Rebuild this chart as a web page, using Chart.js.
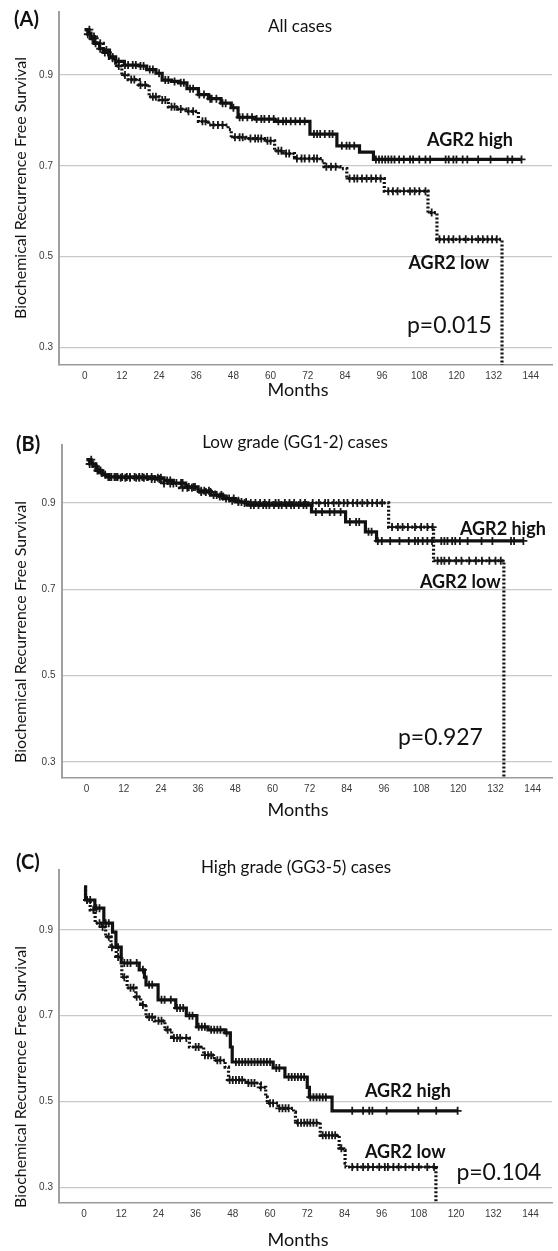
<!DOCTYPE html>
<html>
<head>
<meta charset="utf-8">
<script src="https://cdn.jsdelivr.net/npm/chart.js@4.4.1/dist/chart.umd.min.js"></script>
<style>
  body { margin: 0; background: #fff; width: 558px; height: 1251px; overflow: hidden; position: relative; }
  .panel { position: absolute; left: 0; width: 558px; }
</style>
</head>
<body>
<div class="panel" style="top:0"><canvas id="chartA" width="558" height="400"></canvas></div>
<div class="panel" style="top:400px"><canvas id="chartB" width="558" height="425"></canvas></div>
<div class="panel" style="top:825px"><canvas id="chartC" width="558" height="426"></canvas></div>
<script>
// Shared axis ticks
const monthTicks = [0, 12, 24, 36, 48, 60, 72, 84, 96, 108, 120, 132, 144];
const survTicks = [0.3, 0.5, 0.7, 0.9];

// (A) All cases - step curves (event times / survival after the step) and censor times
const aHighT = [0, 1, 2, 3, 4.8, 6, 8, 10, 12.8, 17.6, 20, 23, 25, 28, 30.3, 33, 36.7, 40, 44, 47.3, 49.5, 55, 61.3, 72.7, 81.4, 88.7, 93.2, 141];
const aHighS = [1.0, 0.99, 0.98, 0.97, 0.958, 0.95, 0.94, 0.93, 0.922, 0.92, 0.912, 0.904, 0.889, 0.886, 0.883, 0.87, 0.857, 0.848, 0.838, 0.828, 0.807, 0.803, 0.798, 0.77, 0.744, 0.73, 0.714, 0.714];
const aHighC = [1, 2.5, 3.5, 5, 6.5, 7.5, 9, 11, 13, 14, 15.5, 16.5, 18, 19, 21, 22, 24, 26, 27, 29, 31, 32, 34, 35, 37, 38.5, 40.5, 41, 42.5, 44.5, 45.5, 48, 50, 51, 52.5, 54, 55.5, 57, 58, 59.5, 61, 62.5, 64, 65, 66.5, 68, 69.5, 71, 74, 75, 76, 77.5, 79, 80, 83, 84.5, 85.5, 87, 94, 95, 96, 97, 98, 99, 100, 101.5, 103, 105, 106, 108, 110, 111.5, 116.5, 117.5, 119, 120, 122, 123.5, 127, 131, 136.5, 138, 141];
const aLowT = [0, 2, 4, 6, 8, 10, 12, 14, 17.6, 20.8, 24, 27, 30, 32.6, 36.7, 40, 46.3, 47.3, 52, 58, 61.3, 64, 67.7, 76, 77.3, 82.4, 84.6, 96.7, 110.8, 113.7, 134.7];
const aLowS = [1.0, 0.985, 0.97, 0.955, 0.937, 0.92, 0.90, 0.89, 0.878, 0.852, 0.845, 0.83, 0.825, 0.82, 0.798, 0.79, 0.78, 0.763, 0.76, 0.755, 0.733, 0.727, 0.716, 0.711, 0.698, 0.694, 0.672, 0.644, 0.597, 0.538, 0.0];
const aLowC = [1.5, 3, 5, 7, 9, 11, 13, 15, 16, 18, 19.5, 22, 23, 25, 26, 28, 29, 31, 33.5, 35, 38, 39, 41.5, 43, 44.5, 48.5, 50, 51, 53.5, 55, 56, 57, 59, 60, 62.5, 63.5, 65, 66, 68.5, 70, 71, 72.5, 74, 75, 78, 79.5, 81, 85.5, 87, 88, 89.5, 91, 92.5, 94, 95.5, 98, 99.5, 101, 103, 105, 106.5, 108, 110, 112, 114.5, 116, 117.5, 119, 121, 123, 125, 127, 128.5, 130, 131.5, 133];

// (B) Low grade (GG1-2) cases
const bHighT = [0, 1, 3, 5, 7, 22, 25, 28, 32, 36, 40, 44, 48, 52, 72.6, 83.6, 90, 93.6, 141];
const bHighS = [1.0, 0.99, 0.975, 0.965, 0.96, 0.958, 0.952, 0.946, 0.937, 0.928, 0.918, 0.91, 0.902, 0.895, 0.879, 0.856, 0.833, 0.812, 0.812];
const bHighC = [1, 2, 3.5, 4.5, 6, 7.5, 9, 10, 11.5, 13, 14, 15.5, 17, 18, 19.5, 21, 23, 24, 26, 27, 29, 30.5, 31, 33, 34.5, 35, 37, 38, 39.5, 41, 42, 43.5, 45, 46, 47.5, 49, 50, 51.5, 53, 54, 55.5, 57, 58, 59, 60.5, 62, 63, 64.5, 66, 67, 68.5, 70, 71, 74, 76, 78.5, 80, 82, 85, 87, 88, 91, 92, 94, 95.3, 98, 101, 104, 106, 107, 108.5, 110, 111.5, 114.5, 115.5, 116.5, 118, 119, 120.5, 123, 127.5, 131, 137, 138, 141];
const bLowT = [0, 2, 4, 6, 10, 20, 24, 30, 36, 42, 46, 50, 97.5, 112, 134.7];
const bLowS = [1.0, 0.985, 0.97, 0.96, 0.958, 0.955, 0.945, 0.935, 0.925, 0.915, 0.905, 0.90, 0.844, 0.766, 0.0];
const bLowC = [1.5, 3, 5, 7, 8, 9.5, 11, 12.5, 14, 16, 17, 18.5, 21, 22, 23.5, 25, 27, 28, 31, 32.5, 34, 37, 38.5, 40, 43, 44, 47, 49, 51, 53, 54.5, 56, 57.5, 59, 61, 62, 64, 65.5, 67, 69, 70.5, 73, 75, 77, 78, 79.8, 81.4, 83, 84.2, 86, 87.4, 89, 90.6, 92.2, 93.8, 95.4, 98.6, 100.5, 102, 103.7, 106, 108, 110, 111.7, 113.3, 114.5, 115.5, 117, 119.3, 121, 123.5, 125.7, 127.6, 130, 132, 133.7];

// (C) High grade (GG3-5) cases
const cHighT = [0, 0.5, 3.5, 6.4, 9.2, 10.3, 12, 17.8, 19.5, 20, 23.9, 29.6, 33, 36.4, 40, 45.5, 47.2, 47.8, 61, 64.8, 72, 72.7, 80, 120.5];
const cHighS = [1.0, 0.97, 0.951, 0.916, 0.895, 0.86, 0.823, 0.807, 0.79, 0.772, 0.737, 0.718, 0.70, 0.674, 0.667, 0.66, 0.627, 0.592, 0.578, 0.557, 0.533, 0.51, 0.478, 0.478];
const cHighC = [1, 2, 4, 5, 7, 8, 11, 13, 14, 15, 17, 19, 21, 22, 25, 26, 28, 30, 31, 32, 34, 35, 37, 38, 39, 41, 42, 43, 44, 46, 49, 50, 51, 52, 53, 54, 55, 56, 57, 58, 59, 60, 62, 63, 66, 67, 68, 69, 70, 71, 73, 74, 75, 76, 77, 78, 86.5, 90, 92, 93, 97.6, 107.8, 113.6, 120.5];
const cLowT = [0, 0.5, 2, 3.6, 5.9, 7, 8.7, 10.4, 12.2, 13.9, 16.7, 18.3, 20, 22.7, 26.1, 28.3, 34, 38.6, 42, 45.5, 46.6, 52.4, 56.9, 58.6, 59.1, 62.6, 67.6, 68.2, 76.2, 82.3, 83.5, 84.2, 84.5, 113.5];
const cLowS = [1.0, 0.97, 0.947, 0.916, 0.907, 0.884, 0.86, 0.837, 0.79, 0.765, 0.744, 0.725, 0.697, 0.688, 0.667, 0.648, 0.627, 0.608, 0.596, 0.58, 0.55, 0.543, 0.533, 0.51, 0.496, 0.484, 0.475, 0.45, 0.421, 0.391, 0.386, 0.356, 0.347, 0.0];
const cLowC = [1, 3, 5, 6, 8, 9, 11, 13, 15, 16, 17, 19, 21, 22, 24, 25, 27, 29, 30, 31, 33, 36, 37, 39, 40, 41, 43, 44, 47, 48, 49, 50, 51, 53, 54, 55, 57, 60, 61, 63, 64, 65, 66, 69, 70, 71, 72, 73, 74, 75, 77, 78, 79, 80, 81, 83, 86.5, 88.2, 90, 91.6, 93.2, 95.2, 97, 98, 99.8, 101.5, 103.7, 106, 108, 110.7, 112.9];

const FONT = 'Lato, "Open Sans", sans-serif';

function stepPoints(T, S) {
    return T.map((t, i) => ({ x: t, y: S[i] }));
}

function survAt(T, S, t) {
    let s = S[0];
    for (let i = 0; i < T.length; i++) {
        if (T[i] <= t) s = S[i];
    }
    return s;
}

function censorPoints(T, S, C) {
    return C.map(t => ({ x: t, y: survAt(T, S, t) }));
}

// draws panel letter, titles, axis titles and curve labels
const textPlugin = {
    id: 'panelText',
    afterDraw(chart) {
        const p = chart.options.plugins.panelText;
        const ctx = chart.ctx;
        const xs = chart.scales.x, ys = chart.scales.y;
        ctx.save();
        ctx.fillStyle = '#111';
        ctx.textBaseline = 'middle';

        ctx.font = 'bold 20px ' + FONT;
        ctx.textAlign = 'left';
        ctx.fillText(p.letter, p.letterX, p.letterY);

        ctx.font = '17px ' + FONT;
        ctx.textAlign = 'center';
        ctx.fillText(p.title, p.titleX, p.titleY);

        ctx.font = '18px ' + FONT;
        ctx.fillText('Months', p.monthsX, p.monthsY);

        ctx.save();
        ctx.translate(21, p.yTitleY);
        ctx.rotate(-Math.PI / 2);
        ctx.font = '16px ' + FONT;
        ctx.fillText('Biochemical Recurrence Free Survival', 0, 0);
        ctx.restore();

        ctx.textAlign = 'left';
        p.labels.forEach(l => {
            ctx.font = l.font;
            ctx.fillText(l.text, xs.getPixelForValue(l.t), ys.getPixelForValue(l.s));
        });
        ctx.restore();
    }
};

function makePanel(id, cfg) {
    const crossStyle = {
        showLine: false,
        pointStyle: 'cross',
        pointRadius: 4,
        pointBorderWidth: 1.8,
        pointBorderColor: '#1a1a1a',
        pointBackgroundColor: '#1a1a1a',
    };
    new Chart(document.getElementById(id), {
        type: 'line',
        data: {
            datasets: [
                {
                    data: stepPoints(cfg.lowT, cfg.lowS),
                    stepped: true,
                    borderColor: '#111',
                    borderWidth: 3.2,
                    borderDash: [2, 2],
                    pointRadius: 0,
                },
                {
                    data: stepPoints(cfg.highT, cfg.highS),
                    stepped: true,
                    borderColor: '#111',
                    borderWidth: 3.2,
                    pointRadius: 0,
                },
                Object.assign({ data: censorPoints(cfg.lowT, cfg.lowS, cfg.lowC) }, crossStyle),
                Object.assign({ data: censorPoints(cfg.highT, cfg.highS, cfg.highC) }, crossStyle),
            ]
        },
        options: {
            responsive: false,
            animation: false,
            layout: { padding: { top: cfg.areaTop, left: 0, right: 0, bottom: 0 } },
            plugins: {
                legend: { display: false },
                tooltip: { enabled: false },
                panelText: cfg.text,
            },
            scales: {
                x: {
                    type: 'linear',
                    min: cfg.xMin,
                    max: cfg.xMax,
                    afterBuildTicks: s => { s.ticks = monthTicks.map(v => ({ value: v })); },
                    afterFit: s => { s.height = cfg.h - cfg.areaBottom; },
                    grid: { display: false, drawTicks: false },
                    border: { display: true, color: '#9a9a9a', width: 1.5 },
                    ticks: {
                        autoSkip: false,
                        maxRotation: 0,
                        padding: 5,
                        color: '#3a3a3a',
                        font: { family: '"Liberation Sans", sans-serif', size: 10 },
                    },
                },
                y: {
                    type: 'linear',
                    min: cfg.yMin,
                    max: cfg.yMax,
                    afterBuildTicks: s => { s.ticks = survTicks.map(v => ({ value: v })); },
                    afterFit: s => { s.width = cfg.areaLeft; },
                    grid: { color: '#c8c8c8', lineWidth: 1.2, drawTicks: false },
                    border: { display: true, color: '#a0a0a0', width: 2 },
                    ticks: {
                        callback: v => v.toFixed(1),
                        padding: 6,
                        color: '#3a3a3a',
                        font: { family: '"Liberation Sans", sans-serif', size: 10 },
                    },
                },
            },
        },
        plugins: [textPlugin],
    });
}

document.addEventListener('DOMContentLoaded', () => {
    makePanel('chartA', {
        h: 400, areaTop: 6, areaBottom: 365, areaLeft: 59,
        xMin: -8.3, xMax: 150.9, yMin: 0.261, yMax: 1.039,
        highT: aHighT, highS: aHighS, highC: aHighC,
        lowT: aLowT, lowS: aLowS, lowC: aLowC,
        text: {
            letter: '(A)', letterX: 14, letterY: 20,
            title: 'All cases', titleX: 300, titleY: 27,
            monthsX: 298, monthsY: 390, yTitleY: 188,
            labels: [
                { text: 'AGR2 high', t: 110.5, s: 0.756, font: 'bold 18px ' + FONT },
                { text: 'AGR2 low', t: 104.5, s: 0.486, font: 'bold 18px ' + FONT },
                { text: 'p=0.015', t: 104, s: 0.348, font: '23px ' + FONT },
            ],
        },
    });

    makePanel('chartB', {
        h: 425, areaTop: 45, areaBottom: 378, areaLeft: 61.5,
        xMin: -8.1, xMax: 150.3, yMin: 0.263, yMax: 1.034,
        highT: bHighT, highS: bHighS, highC: bHighC,
        lowT: bLowT, lowS: bLowS, lowC: bLowC,
        text: {
            letter: '(B)', letterX: 16, letterY: 45,
            title: 'Low grade (GG1-2) cases', titleX: 295, titleY: 43,
            monthsX: 298, monthsY: 410, yTitleY: 232,
            labels: [
                { text: 'AGR2 high', t: 120.5, s: 0.840, font: 'bold 18px ' + FONT },
                { text: 'AGR2 low', t: 107.6, s: 0.717, font: 'bold 18px ' + FONT },
                { text: 'p=0.927', t: 100.5, s: 0.356, font: '23px ' + FONT },
            ],
        },
    });

    makePanel('chartC', {
        h: 426, areaTop: 45, areaBottom: 378, areaLeft: 59,
        xMin: -8.06, xMax: 151, yMin: 0.263, yMax: 1.04,
        highT: cHighT, highS: cHighS, highC: cHighC,
        lowT: cLowT, lowS: cLowS, lowC: cLowC,
        text: {
            letter: '(C)', letterX: 16, letterY: 38,
            title: 'High grade (GG3-5) cases', titleX: 296, titleY: 43,
            monthsX: 298, monthsY: 415, yTitleY: 252,
            labels: [
                { text: 'AGR2 high', t: 90.6, s: 0.524, font: 'bold 18px ' + FONT },
                { text: 'AGR2 low', t: 90.6, s: 0.381, font: 'bold 18px ' + FONT },
                { text: 'p=0.104', t: 120.1, s: 0.335, font: '23px ' + FONT },
            ],
        },
    });
});
</script>
</body>
</html>
